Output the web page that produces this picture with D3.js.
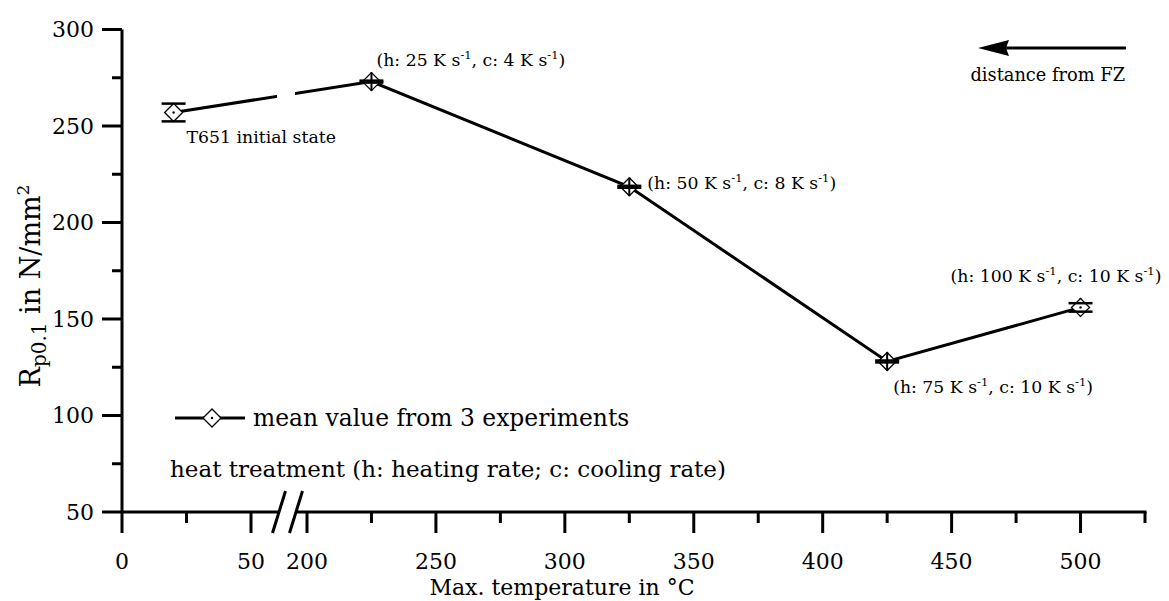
<!DOCTYPE html>
<html>
<head>
<meta charset="utf-8">
<script src="https://cdn.jsdelivr.net/npm/d3@7"></script>
<style>
  html, body { margin: 0; padding: 0; background: #fff; }
  svg { display: block; font-family: "DejaVu Serif", "Liberation Serif", serif; }
</style>
</head>
<body>
<svg id="chart" width="1169" height="601"></svg>
<script>
// ---- data ----
const tempC = [20, 225, 325, 425, 500];
const rp01 = [257, 273, 218.5, 128, 156];
const rpErr = [4.6, 0.5, 0.5, 0.5, 2.2];
const pointNotes = [
  {h: null, c: null, text: "T651 initial state"},
  {h: "25", c: "4"},
  {h: "50", c: "8"},
  {h: "75", c: "10"},
  {h: "100", c: "10"}
];
const xMajorTicks = [0, 50, 200, 250, 300, 350, 400, 450, 500];
const xMinorTicks = [25, 225, 275, 325, 375, 425, 475, 525];
const yMajorTicks = [50, 100, 150, 200, 250, 300];
const yMinorTicks = [75, 125, 175, 225, 275];
const legendText = "mean value from 3 experiments";
const noteText = "heat treatment (h: heating rate; c: cooling rate)";
const arrowText = "distance from FZ";

// ---- layout ----
const svg = d3.select("#chart");
const x = d3.scaleLinear().domain([0, 50, 200, 525]).range([122, 251, 307, 1145]);
const y = d3.scaleLinear().domain([50, 300]).range([512, 29.5]);
const axisY = y(50);
const sw = 3;
const brk1 = 279, brk2 = 296; // break slash centres

const g = svg.append("g");

// y axis line (extends below x axis as 0-tick)
g.append("line").attr("x1", x(0)).attr("x2", x(0)).attr("y1", y(300)).attr("y2", axisY + 21)
  .attr("stroke", "#000").attr("stroke-width", sw);
g.selectAll(".ymaj").data(yMajorTicks).join("line")
  .attr("x1", x(0) - 20).attr("x2", x(0)).attr("y1", d => y(d)).attr("y2", d => y(d))
  .attr("stroke", "#000").attr("stroke-width", sw);
g.selectAll(".ymin").data(yMinorTicks).join("line")
  .attr("x1", x(0) - 10).attr("x2", x(0)).attr("y1", d => y(d)).attr("y2", d => y(d))
  .attr("stroke", "#000").attr("stroke-width", sw);
g.selectAll(".ylab").data(yMajorTicks).join("text")
  .attr("x", x(0) - 28).attr("y", d => y(d)).attr("dy", "0.36em")
  .attr("text-anchor", "end").attr("font-size", 22).text(d => d);

// x axis lines with break
g.append("line").attr("x1", x(0)).attr("x2", brk1).attr("y1", axisY).attr("y2", axisY)
  .attr("stroke", "#000").attr("stroke-width", sw);
g.append("line").attr("x1", brk2).attr("x2", x(525) + 1.5).attr("y1", axisY).attr("y2", axisY)
  .attr("stroke", "#000").attr("stroke-width", sw);
[brk1, brk2].forEach(cx => {
  g.append("line").attr("x1", cx - 6.5).attr("y1", axisY + 21).attr("x2", cx + 6.5).attr("y2", axisY - 21)
    .attr("stroke", "#000").attr("stroke-width", sw);
});
g.selectAll(".xmaj").data(xMajorTicks.filter(d => d !== 0)).join("line")
  .attr("x1", d => x(d)).attr("x2", d => x(d)).attr("y1", axisY).attr("y2", axisY + 21)
  .attr("stroke", "#000").attr("stroke-width", sw);
g.selectAll(".xmin").data(xMinorTicks).join("line")
  .attr("x1", d => x(d)).attr("x2", d => x(d)).attr("y1", axisY).attr("y2", axisY + 11)
  .attr("stroke", "#000").attr("stroke-width", sw);
g.selectAll(".xlab").data(xMajorTicks).join("text")
  .attr("x", d => x(d)).attr("y", 569)
  .attr("text-anchor", "middle").attr("font-size", 22).text(d => d);

// axis titles
g.append("text").attr("x", 562).attr("y", 595).attr("text-anchor", "middle")
  .attr("font-size", 22).text("Max. temperature in °C");
const yt = g.append("text").attr("transform", "translate(40,286) rotate(-90)")
  .attr("text-anchor", "middle").attr("font-size", 27);
yt.append("tspan").text("R");
yt.append("tspan").attr("font-size", 20).attr("dy", 6).text("p0.1");
yt.append("tspan").attr("dy", -6).text(" in N/mm");
yt.append("tspan").attr("font-size", 17).attr("dy", -11).text("2");

// ---- series ----
const pts = tempC.map((t, i) => ({t, v: rp01[i], e: rpErr[i], note: pointNotes[i]}));
const defs = svg.append("defs");
const clip = defs.append("clipPath").attr("id", "gapclip");
clip.append("rect").attr("x", 0).attr("y", 0).attr("width", 277).attr("height", 601);
clip.append("rect").attr("x", 295).attr("y", 0).attr("width", 1169 - 295).attr("height", 601);

const line = d3.line().x(d => x(d.t)).y(d => y(d.v));
g.append("path").datum(pts).attr("d", line).attr("fill", "none")
  .attr("stroke", "#000").attr("stroke-width", sw).attr("clip-path", "url(#gapclip)");

const diamond = (cx, cy, r) => `M${cx},${cy - r}L${cx + r},${cy}L${cx},${cy + r}L${cx - r},${cy}Z`;

g.selectAll(".stem").data(pts).join("line")
  .attr("x1", d => x(d.t)).attr("x2", d => x(d.t))
  .attr("y1", d => Math.min(y(d.v + d.e), y(d.v) - 9)).attr("y2", d => Math.max(y(d.v - d.e), y(d.v) + 9))
  .attr("stroke", "#000").attr("stroke-width", 2);
g.selectAll(".mk").data(pts).join("path")
  .attr("d", d => diamond(x(d.t), y(d.v), 9))
  .attr("fill", "#fff").attr("stroke", "#000").attr("stroke-width", 1.3);
g.selectAll(".dot").data(pts).join("circle")
  .attr("cx", d => x(d.t)).attr("cy", d => y(d.v)).attr("r", 1.2).attr("fill", "#000");
g.selectAll(".cross").data(pts.filter(d => d.e < 1)).join("line")
  .attr("x1", d => x(d.t)).attr("x2", d => x(d.t))
  .attr("y1", d => y(d.v) - 9).attr("y2", d => y(d.v) + 9)
  .attr("stroke", "#000").attr("stroke-width", 2);
["hi", "lo"].forEach(k => {
  g.selectAll(".cap" + k).data(pts).join("line")
    .attr("x1", d => x(d.t) - 12).attr("x2", d => x(d.t) + 12)
    .attr("y1", d => y(k === "hi" ? d.v + d.e : d.v - d.e))
    .attr("y2", d => y(k === "hi" ? d.v + d.e : d.v - d.e))
    .attr("stroke", "#000").attr("stroke-width", 2.5);
});

// ---- annotations ----
const noteOffsets = [[13, 31], [5, -16], [18, 2], [6, 32], [-130, -25]];
pts.forEach((d, i) => {
  const [dx, dy] = noteOffsets[i];
  const tx = g.append("text").attr("x", x(d.t) + dx).attr("y", y(d.v) + dy).attr("font-size", 17.3);
  if (d.note.text) { tx.text(d.note.text); return; }
  tx.append("tspan").text(`(h: ${d.note.h} K s`);
  tx.append("tspan").attr("font-size", 11.5).attr("dy", -7).text("-1");
  tx.append("tspan").attr("dy", 7).text(`, c: ${d.note.c} K s`);
  tx.append("tspan").attr("font-size", 11.5).attr("dy", -7).text("-1");
  tx.append("tspan").attr("dy", 7).text(")");
});

// arrow
g.append("line").attr("x1", 1126).attr("x2", 1000).attr("y1", 48).attr("y2", 48)
  .attr("stroke", "#000").attr("stroke-width", sw);
g.append("path").attr("d", "M978,48L1009,40L1006,48L1009,56Z").attr("fill", "#000");
g.append("text").attr("x", 1125).attr("y", 81).attr("text-anchor", "end")
  .attr("font-size", 17.8).text(arrowText);

// legend
g.append("line").attr("x1", 175).attr("x2", 245).attr("y1", 418).attr("y2", 418)
  .attr("stroke", "#000").attr("stroke-width", sw);
g.append("path").attr("d", diamond(212, 418, 9)).attr("fill", "#fff").attr("stroke", "#000").attr("stroke-width", 1.3);
g.append("circle").attr("cx", 212).attr("cy", 418).attr("r", 1.2).attr("fill", "#000");
g.append("text").attr("x", 253).attr("y", 426).attr("font-size", 23.4).text(legendText);
g.append("text").attr("x", 170).attr("y", 477).attr("font-size", 23).text(noteText);
</script>
</body>
</html>
